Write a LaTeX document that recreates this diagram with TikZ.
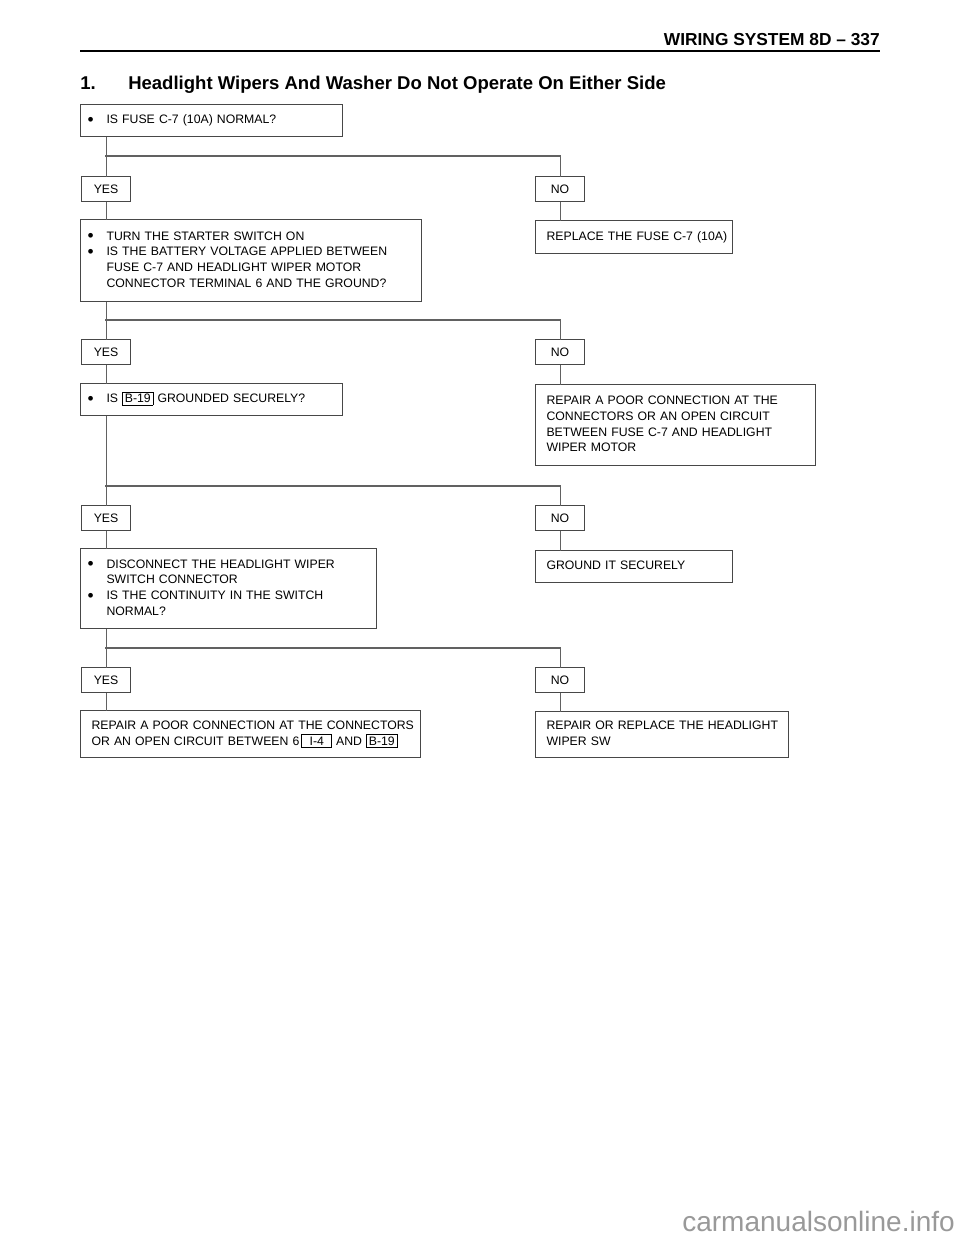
\documentclass[tikz,border=0pt]{standalone}
\usepackage{fontspec}
\setmainfont{Liberation Sans}
\usepackage{array}
\definecolor{boxcol}{gray}{0.28}
\definecolor{wirecol}{gray}{0.38}
\definecolor{markcol}{gray}{0.6}
\newcommand{\bodyfont}{\fontsize{9.2}{11.8}\selectfont}
\newcommand{\code}[1]{{\setlength{\fboxsep}{1.5pt}\setlength{\fboxrule}{0.5pt}\fbox{#1}}}
\newcommand{\blt}{\raisebox{-1.2pt}{\fontsize{13}{11.8}\selectfont\textbullet}}
\newenvironment{blist}{\begin{tabular}{@{}p{14.25pt}@{}l@{}}}{\end{tabular}}
\newenvironment{plist}{\begin{tabular}{@{}l@{}}}{\end{tabular}}
\begin{document}
\begin{tikzpicture}[x=0.75pt,y=-0.75pt,
  qbox/.style={draw=boxcol, line width=0.8pt, fill=white, anchor=north west,
    inner xsep=5.25pt, inner ysep=0pt, align=left, font=\bodyfont},
  abox/.style={qbox, inner xsep=8.25pt},
  tag/.style={draw=boxcol, line width=0.8pt, fill=white, anchor=north west,
    minimum width=36.75pt, minimum height=18.75pt, inner sep=0pt, font=\bodyfont},
  wire/.style={draw=wirecol, line width=0.8pt, line cap=rect}]
\useasboundingbox (0,0) rectangle (960,1242);

% header
\node[anchor=base east, inner sep=0pt, font=\fontsize{13}{15}\selectfont\bfseries] (hdr) at (880,45) {WIRING SYSTEM 8D -- 337};
\draw[line width=2.2pt] (80,51) coordinate (r1) -- (880,51) coordinate (r2);
\node[anchor=base west, inner sep=0pt, font=\fontsize{13.9}{16}\selectfont\bfseries] (title) at (80,89)
  {\makebox[36pt][l]{1.}Headlight Wipers And Washer Do Not Operate On Either Side};

% question boxes
\node[qbox, minimum width=196.5pt, minimum height=24pt, text width=186pt] (q1) at (80,104)
  {\begin{blist}\blt & IS FUSE C-7 (10A) NORMAL?\end{blist}};
\node[qbox, minimum width=255.75pt, minimum height=61.5pt, text width=245.25pt] (q2) at (80,219)
  {\begin{blist}\blt & TURN THE STARTER SWITCH ON\\
   \blt & IS THE BATTERY VOLTAGE APPLIED BETWEEN\\
   & FUSE C-7 AND HEADLIGHT WIPER MOTOR\\
   & CONNECTOR TERMINAL 6 AND THE GROUND?\end{blist}};
\node[qbox, minimum width=196.5pt, minimum height=24pt, text width=186pt] (q3) at (80,383)
  {\begin{blist}\blt & IS \code{B-19} GROUNDED SECURELY?\end{blist}};
\node[qbox, minimum width=222pt, minimum height=60pt, text width=211.5pt] (q4) at (80,548)
  {\begin{blist}\blt & DISCONNECT THE HEADLIGHT WIPER\\
   & SWITCH CONNECTOR\\
   \blt & IS THE CONTINUITY IN THE SWITCH\\
   & NORMAL?\end{blist}};
\node[abox, minimum width=255pt, minimum height=35.25pt, text width=238.5pt] (q5) at (80,710)
  {\begin{plist}REPAIR A POOR CONNECTION AT THE CONNECTORS\\
   OR AN OPEN CIRCUIT BETWEEN 6\,\code{\makebox[19pt]{I-4}} AND \code{B-19}\end{plist}};

% answer boxes
\node[abox, minimum width=147.75pt, minimum height=24.75pt, text width=131.25pt] (a1) at (535,220)
  {\begin{plist}REPLACE THE FUSE C-7 (10A)\end{plist}};
\node[abox, minimum width=210pt, minimum height=60.75pt, text width=193.5pt] (a2) at (535,384)
  {\begin{plist}REPAIR A POOR CONNECTION AT THE\\
   CONNECTORS OR AN OPEN CIRCUIT\\
   BETWEEN FUSE C-7 AND HEADLIGHT\\
   WIPER MOTOR\end{plist}};
\node[abox, minimum width=147.75pt, minimum height=24pt, text width=131.25pt] (a3) at (535,550)
  {\begin{plist}GROUND IT SECURELY\end{plist}};
\node[abox, minimum width=189.75pt, minimum height=34.5pt, text width=173.25pt] (a4) at (535,711)
  {\begin{plist}REPAIR OR REPLACE THE HEADLIGHT\\
   WIPER SW\end{plist}};

% yes / no tags
\node[tag] (y1) at (81,176) {YES};
\node[tag] (n1) at (535,176) {NO};
\node[tag] (y2) at (81,339) {YES};
\node[tag] (n2) at (535,339) {NO};
\node[tag] (y3) at (81,505) {YES};
\node[tag] (n3) at (535,505) {NO};
\node[tag] (y4) at (81,667) {YES};
\node[tag] (n4) at (535,667) {NO};

% branch points
\coordinate (b1) at (105.5,156);
\coordinate (b2) at (105.5,320);
\coordinate (b3) at (105.5,486);
\coordinate (b4) at (105.5,648);

% connectors
\draw[wire] (q1.south -| y1.north) -- (y1.north);
\draw[wire] (b1) -| (n1.north);
\draw[wire] (y1.south) -- (q2.north -| y1.south);
\draw[wire] (n1.south) -- (a1.north -| n1.south);

\draw[wire] (q2.south -| y2.north) -- (y2.north);
\draw[wire] (b2) -| (n2.north);
\draw[wire] (y2.south) -- (q3.north -| y2.south);
\draw[wire] (n2.south) -- (a2.north -| n2.south);

\draw[wire] (q3.south -| y3.north) -- (y3.north);
\draw[wire] (b3) -| (n3.north);
\draw[wire] (y3.south) -- (q4.north -| y3.south);
\draw[wire] (n3.south) -- (a3.north -| n3.south);

\draw[wire] (q4.south -| y4.north) -- (y4.north);
\draw[wire] (b4) -| (n4.north);
\draw[wire] (y4.south) -- (q5.north -| y4.south);
\draw[wire] (n4.south) -- (a4.north -| n4.south);

% watermark
\node[anchor=base east, inner sep=0pt, text=markcol, font=\fontsize{21}{24}\selectfont] (wm) at (955,1231) {carmanualsonline.info};
\end{tikzpicture}
\end{document}
